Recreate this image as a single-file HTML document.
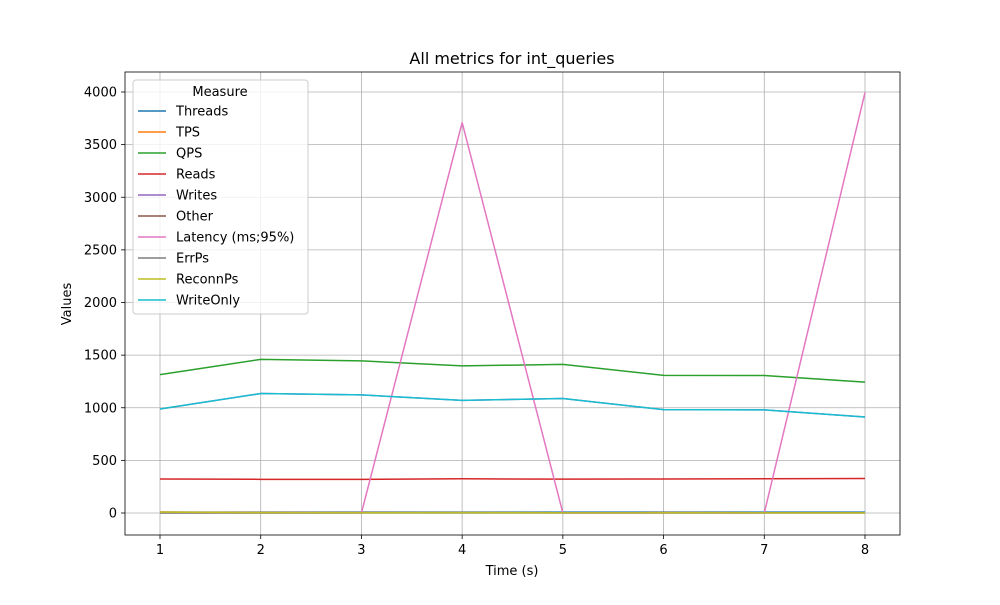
<!DOCTYPE html>
<html><head><meta charset="utf-8"><style>
body{margin:0;background:#fff}
svg text{font-family:"DejaVu Sans","Liberation Sans",sans-serif;fill:#000}
</style></head><body>
<svg id="chart" width="1000" height="600" xmlns="http://www.w3.org/2000/svg">
<rect width="1000" height="600" fill="#fff"/>
<g id="grid"></g>
<g id="lines"></g>
<rect x="125" y="72" width="775" height="463" fill="none" stroke="#000" stroke-width="0.8"/>
<g id="axes"></g>
<text x="512" y="64" font-size="16" text-anchor="middle">All metrics for int_queries</text>
<text x="512" y="575" font-size="13" text-anchor="middle">Time (s)</text>
<text x="71" y="304" font-size="13" text-anchor="middle" transform="rotate(-90 71 304)">Values</text>
<g id="legend"></g>
</svg>
<script>
const times=[1,2,3,4,5,6,7,8];
const seriesNames=["Threads","TPS","QPS","Reads","Writes","Other","Latency (ms;95%)","ErrPs","ReconnPs","WriteOnly"];
const colors=["#1f77b4","#ff7f0e","#2ca02c","#d62728","#9467bd","#8c564b","#e377c2","#7f7f7f","#bcbd22","#17becf"];
const threads=[8,8,8,8,8,8,8,8];
const tps=[10,5,3,4,2,3,2,2];
const qps=[1315,1460,1445,1398,1412,1308,1306,1243];
const reads=[323,320,320,325,322,323,326,328];
const writes=[988,1135,1122,1070,1088,982,980,912];
const other=[5,3,3,3,2,3,2,2];
const latency=[0,0,0,3710,0,0,0,3995];
const errps=[0,0,0,0,0,0,0,0];
const reconnps=[8,3,2,3,1,2,1,1];
const writeonly=[988,1135,1122,1070,1088,982,980,912];
const seriesValues=[threads,tps,qps,reads,writes,other,latency,errps,reconnps,writeonly];
const xTicks=[1,2,3,4,5,6,7,8];
const yTicks=[0,500,1000,1500,2000,2500,3000,3500,4000];
const NS="http://www.w3.org/2000/svg";
const X=v=>160+(v-1)*(865-160)/7;
const Y=v=>513-v*(513-92)/4000;
function mk(t,a,p){const e=document.createElementNS(NS,t);for(const k in a)e.setAttribute(k,a[k]);p.appendChild(e);return e;}
const grid=document.getElementById('grid'),axes=document.getElementById('axes'),lines=document.getElementById('lines'),leg=document.getElementById('legend');
xTicks.forEach(t=>{const x=X(t);
 const g=mk('line',{x1:x,x2:x,y1:72,y2:535,stroke:'#b0b0b0','stroke-width':0.8},grid);
 
 
 mk('line',{x1:x,x2:x,y1:535,y2:539,stroke:'#000','stroke-width':0.8},axes);
 const tx=mk('text',{x:x,y:554,'font-size':13,'text-anchor':'middle'},axes);tx.textContent=t;
 
 });
yTicks.forEach(t=>{const y=Y(t);
 const g=mk('line',{x1:125,x2:900,y1:y,y2:y,stroke:'#b0b0b0','stroke-width':0.8},grid);
 
 
 mk('line',{x1:121,x2:125,y1:y,y2:y,stroke:'#000','stroke-width':0.8},axes);
 const tx=mk('text',{x:117,y:y+4.5,'font-size':13,'text-anchor':'end'},axes);tx.textContent=t;
 
 });
seriesValues.forEach((vals,i)=>{
 const p=mk('polyline',{points:vals.map((v,j)=>X(times[j])+','+Y(v)).join(' '),fill:'none',stroke:colors[i],'stroke-width':1.5},lines);
 
 });
mk('rect',{x:133,y:80,width:175,height:234,rx:3,fill:'#fff','fill-opacity':0.8,stroke:'#ccc'},leg);
const lt=mk('text',{x:220,y:96,'font-size':13,'text-anchor':'middle'},leg);lt.textContent='Measure';


seriesNames.forEach((n,i)=>{const y=111+i*21;
 const g=mk('g',{},leg);
 
 
 mk('line',{x1:138,x2:166,y1:y,y2:y,stroke:colors[i],'stroke-width':1.5},g);
 const t=mk('text',{x:176,y:y+4.5,'font-size':13},g);t.textContent=n;});
</script>
</body></html>
